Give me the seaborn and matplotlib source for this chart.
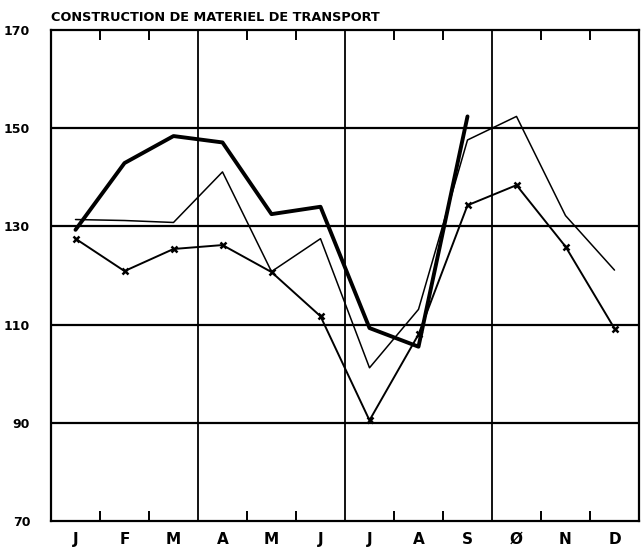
"""Construction de materiel de transport - monthly index, three years."""

import matplotlib
matplotlib.use("Agg")
import matplotlib.pyplot as plt
import numpy as np
import pandas as pd
import seaborn as sns

months = ["J", "F", "M", "A", "M", "J", "J", "A", "S", "Ø", "N", "D"]

# thick line (stops at September)
serie_epaisse = [129.3, 142.9, 148.4, 147.1, 132.5, 134.0, 109.3, 105.5, 152.4]
# thin line, no markers
serie_fine = [131.4, 131.2, 130.8, 141.1, 120.8, 127.5, 101.2, 113.1, 147.6, 152.4, 132.2, 121.1]
# thin line with x markers
serie_croix = [127.5, 120.9, 125.4, 126.2, 120.7, 111.7, 90.5, 108.0, 134.3, 138.4, 125.9, 109.2]

yticks = [70, 90, 110, 130, 150, 170]


def _frame(values, name):
    return pd.DataFrame({"pos": np.arange(len(values)) + 0.5, "value": values, "serie": name})


sns.set_theme(style="white")
plt.rcParams["font.family"] = ["DejaVu Sans"]
plt.rcParams["text.color"] = "black"
plt.rcParams["xtick.color"] = "black"
plt.rcParams["ytick.color"] = "black"

fig = plt.figure(figsize=(6.41, 5.51), dpi=100)
ax = fig.add_axes([51 / 641, 1 - 521 / 551, 588 / 641, 491 / 551])

# grid first so data lines sit on top
for y in [90, 110, 130, 150]:
    ax.axhline(y, color="black", linewidth=1.6, zorder=1)
for x in [3, 6, 9]:
    ax.axvline(x, color="black", linewidth=1.3, zorder=1)

sns.lineplot(data=_frame(serie_fine, "fine"), x="pos", y="value", ax=ax,
             color="black", linewidth=1.1, legend=False, zorder=3)
sns.lineplot(data=_frame(serie_croix, "croix"), x="pos", y="value", ax=ax,
             color="black", linewidth=1.4, marker="x", markersize=5,
             markeredgewidth=1.8, markeredgecolor="black", legend=False, zorder=3)
sns.lineplot(data=_frame(serie_epaisse, "epaisse"), x="pos", y="value", ax=ax,
             color="black", linewidth=2.8, legend=False, zorder=4)

ax.set_xlim(0, 12)
ax.set_ylim(70, 170)
ax.set_xlabel(None)
ax.set_ylabel(None)

for side in ["top", "bottom", "left", "right"]:
    ax.spines[side].set_color("black")
    ax.spines[side].set_linewidth(1.6)

# minor month ticks on top and bottom, pointing inwards
ax.set_xticks([i + 0.5 for i in range(12)])
ax.set_xticklabels(months, fontsize=11, fontweight="bold")
ax.set_xticks([1, 2, 4, 5, 7, 8, 10, 11], minor=True)
ax.tick_params(axis="x", which="major", length=0, pad=8)
ax.tick_params(axis="x", which="minor", direction="in", length=7, width=1.4,
               top=True, bottom=True, color="black")

ax.set_yticks(yticks)
ax.set_yticklabels([str(v) for v in yticks], fontsize=9, fontweight="bold")
ax.tick_params(axis="y", length=0, pad=15)

ax.text(0.0, 1.012, "CONSTRUCTION DE MATERIEL DE TRANSPORT", transform=ax.transAxes,
        ha="left", va="bottom", fontsize=9.3, fontweight="bold")

fig.savefig("out.png", dpi=100)
